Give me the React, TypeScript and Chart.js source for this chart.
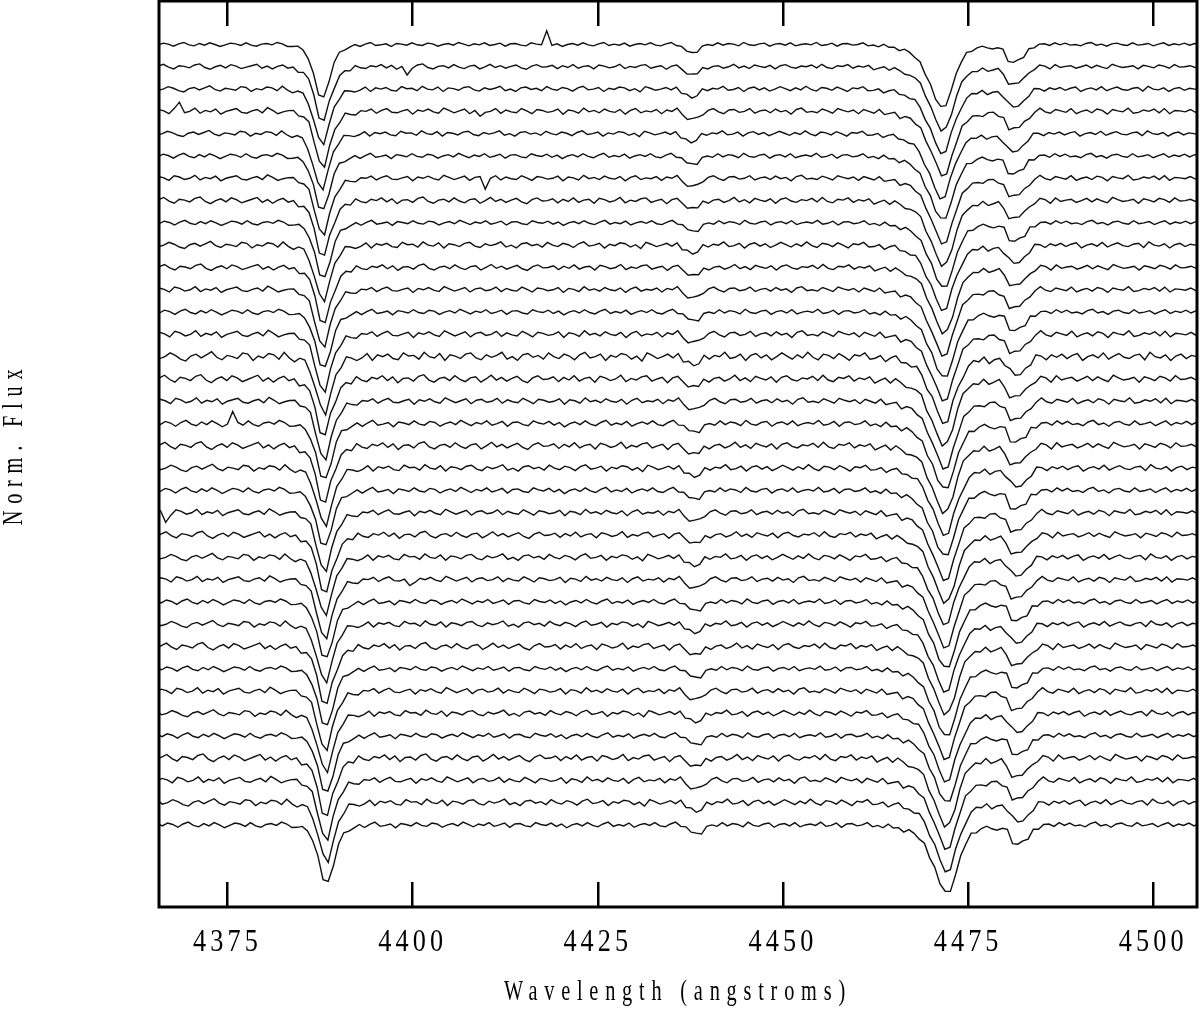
import React, { useEffect, useRef } from 'react';
import { Chart, registerables } from 'chart.js';

Chart.register(...registerables);

// ---- axes / text ----
const X_MIN = 4365.75;
const X_MAX = 4505.9;
const Y_MIN = 0.632;
const Y_MAX = 4.695;
const X_TICKS = [4375, 4400, 4425, 4450, 4475, 4500];
const X_TITLE = 'Wavelength (angstroms)';
const Y_TITLE = 'Norm. Flux';

// ---- spectrum sampling (Å) ----
const WAVE_START = 4364.9;
const WAVE_STEP = 0.7;

// ---- absorption lines (depth in 0.001 continuum units) ----
const LINE_WAVES = [
  4383.1, 4383.8, 4384.5, 4385.2, 4385.9, 4386.6, 4387.3, 4388.0, 4388.7, 4389.4, 4390.1, 4390.8, 4391.5,
  4392.2, 4392.9,
  4436.3, 4437.0, 4437.7, 4438.4, 4439.1,
  4462.2, 4462.9, 4463.6, 4464.3, 4465.0, 4465.7, 4466.4, 4467.1, 4467.8, 4468.5, 4469.2, 4469.9, 4470.6,
  4471.3, 4472.0, 4472.7, 4473.4, 4474.1, 4474.8, 4475.5, 4476.2, 4476.9, 4477.6, 4478.3, 4479.0, 4479.7,
  4480.4, 4481.1, 4481.8, 4482.5, 4483.2, 4483.9,
];
const LINE_DEPTHS = [
  3, 6, 12, 25, 60, 135, 225, 238, 160, 85, 42, 22, 12,
  6, 3,
  10, 28, 42, 28, 10,
  4, 6, 8, 11, 15, 20, 27, 37, 55, 82, 125, 180, 245,
  285, 270, 205, 135, 75, 40, 25, 17, 15, 14, 16, 18, 30,
  70, 80, 72, 55, 25, 8,
];

// ---- noise patterns (0.001 units) ----
const NOISE_A = [
  3, -2, 4, 1, -5, 2, 6, -1, -4, 3,
  -2, 5, 0, -6, -1, 4, 2, -3, 5, -2,
  -5, 1, 3, -1, 6, 2, -4, -2, 3, 0,
  -3, 4, -1, 2, -5, 3, 5, -2, 0, 4,
  -4, 1, 6, -3, -1, 2, -6, 3, 1, -2,
  5, -1, -3, 4, 2, -5, 0, 3, -2, 6,
  1, -4, 2, -1, 5, -3, 0, 4, -5, 2,
  3, -2, -4, 5, 1, -1, 4, -3, 2, -6,
  0, 3, -2, 5, -1, -4, 2, 6, -3, 1,
  -2, 4, -5, 0, 3, -1, 5, -2, -4, 2,
  6, -3, 1, -1, 4, -5, 2, 0, -3, 5,
  -2, 3, 1, -4, 6, -1, -3, 2, 4, -5,
  1, 3, -2, 5, -4, 0, 2, -1, 6, -3,
  -1, 4, -5, 2, 3, -2, 0, 5, -4, 1,
  -3, 6, -1, 2, -5, 4, 1, -2, 3, -6,
  2, 0, 5, -3, -1, 4, -2, 3, -4, 1,
  5, -1, -3, 2, 6, -4, 0, 3, -2, 4,
  -5, 1, 2, -3, 5, -1, 4, -2, 0, -4,
  3, 6, -2, 1, -5, 2, 4, -1, -3, 5,
  -2, 0, 3, -4, 1, 5, -3, 2, -1, 4,
  -2, 3, 1, -4, 2, 0,
];
const NOISE_B = [
  -4, 2, 7, -1, -6, 3, 1, -3, 5, 8,
  -2, -7, 0, 4, -3, 6, 2, -5, -1, 3,
  7, -4, 2, -6, 1, 5, -2, 3, -8, 0,
  4, 6, -3, -1, 5, -6, 2, 3, -4, 7,
  -1, -5, 3, 0, 6, -3, 4, -7, 1, 2,
  -4, 5, 8, -2, -6, 1, 3, -3, 6, -1,
  -5, 2, 4, -6, 0, 7, -2, 3, -4, 1,
  5, -3, -7, 2, 6, -1, 0, 4, -5, 3,
  -2, 6, -4, 1, 3, -6, 5, 2, -3, 0,
  7, -5, 1, -2, 4, 6, -4, 0, 3, -7,
  2, 5, -1, -3, 6, -2, 4, -6, 1, 3,
  -4, 0, 7, -3, 2, -5, 5, 1, -2, 4,
  -6, 3, 6, -1, -4, 2, 0, 5, -3, 7,
  -2, -5, 3, 1, 6, -4, 2, -1, 4, -6,
  0, 5, -3, 7, 2, -4, -1, 3, 6, -5,
  1, 4, -2, 0, -6, 3, 5, -1, 2, -3,
  6, -4, 1, 7, -2, -5, 3, 0, 4, -1,
  -3, 5, 2, -6, 6, -2, 1, 3, -4, 0,
  5, -3, 4, -1, -5, 7, 2, -2, 0, 3,
  -6, 4, 1, -3, 5, 2, -4, 6, -1, 0,
  3, -2, 1, 4, -3, 0,
];
const NOISE_C = [
  5, -3, 0, 6, 2, -4, -7, 1, 4, -2,
  3, 8, -1, -5, 2, 0, -3, 6, 4, -6,
  1, -2, 5, 3, -4, 7, -1, -6, 2, 4,
  -3, 0, 6, -5, 1, 3, -2, 8, 2, -4,
  -1, 5, -6, 3, 0, 4, -3, -5, 6, 1,
  2, -4, 7, 0, -2, 5, -6, 3, 1, -3,
  4, 6, -2, -5, 3, -1, 2, 7, -4, 0,
  -6, 3, 5, -1, 2, -4, 6, 0, -3, 4,
  1, -5, 3, 7, -2, 0, 4, -6, 2, -1,
  5, 3, -4, 1, -7, 6, 2, -3, 0, 4,
  -2, 5, -5, 3, 1, -1, 6, -4, 2, 0,
  7, -3, -1, 4, -6, 2, 5, -2, 3, -5,
  0, 6, 1, -4, 3, -2, 7, -1, -5, 4,
  2, -3, 5, 0, -6, 3, 1, 6, -4, -1,
  4, -5, 2, 7, -2, 0, -3, 5, 1, -6,
  3, 4, -1, -4, 6, 2, -5, 0, 3, -2,
  5, -6, 1, 4, -3, 7, 0, -2, 2, -4,
  6, 1, -5, 3, -1, 4, -3, 2, 5, -6,
  0, 3, -2, 6, -4, 1, 5, -1, -3, 2,
  4, -5, 7, 0, -2, 3, -6, 1, 4, -3,
  2, 0, -3, 5, 1, -2,
];
const NOISE_D = [
  -2, 4, 1, -5, 6, 3, -3, 0, 7, -4,
  2, -1, 5, -6, 0, 3, 6, -2, -4, 1,
  4, -3, 8, 2, -5, -1, 3, 5, -4, 0,
  6, -2, 1, -6, 4, 2, -3, 7, -1, -5,
  3, 0, 5, -4, 2, 6, -2, -3, 1, 4,
  -6, 3, 0, 5, -1, -4, 7, 2, -3, 1,
  5, -5, 2, 4, -2, 0, 6, -4, 3, -1,
  -3, 6, 1, -5, 4, 2, -2, 0, 5, -6,
  3, 1, -4, 7, -1, 2, -3, 5, 0, -2,
  4, -6, 2, 6, -3, 1, -1, 4, -5, 3,
  0, 7, -2, -4, 5, 1, -3, 2, 6, -1,
  -5, 3, 4, -2, 0, 6, -4, 1, 3, -3,
  5, -1, 2, -6, 4, 7, -2, 0, -3, 5,
  1, -4, 6, 2, -1, 3, -5, 4, 0, -2,
  7, -3, 1, 5, -6, 2, 3, -1, 4, -4,
  0, 6, -2, -5, 3, 1, 5, -3, 2, -1,
  -4, 4, 6, -2, 1, -6, 3, 0, 5, -3,
  2, 7, -1, -4, 4, 1, -2, 6, -5, 0,
  3, -3, 5, 2, -6, 4, 1, -1, 7, -4,
  -2, 3, 0, 5, -3, 6, -5, 2, 1, -1,
  4, -2, 0, 3, -1, 2,
];
const TEMPLATES = [NOISE_A, NOISE_B, NOISE_C, NOISE_D];

// ---- per-spectrum values (top to bottom) ----
const OFFSETS = [
  3.5, 3.4, 3.3, 3.2, 3.1, 3.0, 2.9, 2.8, 2.7, 2.6, 2.5, 2.4, 2.3, 2.2, 2.1, 2.0, 1.9, 1.8,
  1.7, 1.6, 1.5, 1.4, 1.3, 1.2, 1.1, 1.0, 0.9, 0.8, 0.7, 0.6, 0.5, 0.4, 0.3, 0.2, 0.1, 0.0,
];
const SHIFTS = [
  0, 0.05, 0, 0.1, -0.1, 0, 0.1, 0.1, 0.15, 0.1, 0.2, 0.15, 0.2, 0.2, 0.25, 0.2, 0.3, 0.3,
  0.25, 0.35, 0.3, 0.35, 0.4, 0.35, 0.4, 0.45, 0.4, 0.45, 0.5, 0.45, 0.5, 0.55, 0.5, 0.55, 0.6, 0.6,
];
const DEPTH_SCALE = [
  1.0, 1.0, 1.01, 1.0, 1.02, 1.01, 1.02, 1.02, 1.03, 1.02, 1.03, 1.03, 1.04, 1.03, 1.04, 1.04, 1.05, 1.04,
  1.05, 1.05, 1.04, 1.05, 1.06, 1.05, 1.06, 1.05, 1.06, 1.06, 1.07, 1.06, 1.07, 1.06, 1.07, 1.07, 1.08, 1.08,
];
const NOISE_SCALE = [
  1.5, 1.6, 1.8, 2.1, 1.8, 2.0, 1.9, 2.0, 1.9, 2.1, 1.9, 2.0, 2.1, 2.3, 2.8, 2.4, 2.2, 2.4,
  2.3, 2.2, 2.3, 2.2, 2.1, 2.2, 2.1, 2.2, 2.1, 2.2, 2.1, 2.2, 2.1, 2.2, 2.3, 2.2, 2.2, 2.1,
];
const TRACE_TEMPLATE = [
  0, 1, 2, 3, 2, 0, 3, 1, 0, 2, 1, 3, 0, 3, 2, 1, 3, 0,
  1, 2, 0, 3, 1, 2, 3, 0, 2, 1, 0, 3, 2, 0, 1, 3, 2, 0,
];

// ---- cosmic spikes / single-pixel features ----
const SPIKE_TRACE = [0, 1, 3, 3, 6, 17, 21, 24];
const SPIKE_WAVE = [4418.1, 4399.4, 4409.3, 4368.5, 4409.6, 4375.5, 4366.3, 4399.5];
const SPIKE_AMP = [55, -40, -30, 35, -45, 45, -45, -35];

// ---- text styling ----
const FONT_FAMILY = '"Liberation Serif", "Times New Roman", serif';
const TITLE_SX = 0.7;
const TITLE_SPACING = 9.7;
const LABEL_SX = 0.82;
const LABEL_SPACING = 5;
const Y_TITLE_SHIFT = -10;

function buildTrace(i: number) {
  const noise = TEMPLATES[TRACE_TEMPLATE[i]];
  const absorb = new Map<number, number>();
  LINE_WAVES.forEach((w, j) => absorb.set(Math.round((w - WAVE_START) / WAVE_STEP), LINE_DEPTHS[j]));
  const extra = new Map<number, number>();
  SPIKE_TRACE.forEach((t, j) => {
    if (t === i) extra.set(Math.round((SPIKE_WAVE[j] - SHIFTS[i] - WAVE_START) / WAVE_STEP), SPIKE_AMP[j]);
  });
  return noise.map((n, k) => ({
    x: WAVE_START + k * WAVE_STEP + SHIFTS[i],
    y:
      1 +
      OFFSETS[i] +
      (n * NOISE_SCALE[i] - (absorb.get(k) ?? 0) * DEPTH_SCALE[i] + (extra.get(k) ?? 0)) / 1000,
  }));
}

const framePlugin: any = {
  id: 'frameAndText',
  beforeDraw(chart: any) {
    const ctx = chart.ctx;
    ctx.save();
    ctx.fillStyle = '#ffffff';
    ctx.fillRect(0, 0, chart.width, chart.height);
    ctx.restore();
    const xs = chart.scales.x;
    const ys = chart.scales.y;
    if (!xs.__patched) {
      const origTitle = xs.drawTitle;
      xs.drawTitle = function () {
        const ca = chart.chartArea;
        const cx = (ca.left + ca.right) / 2;
        ctx.save();
        ctx.translate(cx, 0);
        ctx.scale(TITLE_SX, 1);
        ctx.translate(-cx, 0);
        ctx.letterSpacing = TITLE_SPACING + 'px';
        origTitle.call(this);
        ctx.restore();
      };
      xs._computeLabelArea = () => undefined;
      const origItems = xs.getLabelItems;
      xs.getLabelItems = function (ca: any) {
        const items = origItems.call(this, ca);
        return items.map((it: any) => ({
          ...it,
          options: {
            ...it.options,
            translation: [it.options.translation[0] / LABEL_SX, it.options.translation[1]],
          },
        }));
      };
      const origLabels = xs.drawLabels;
      xs.drawLabels = function (ca: any) {
        ctx.save();
        ctx.scale(LABEL_SX, 1);
        ctx.letterSpacing = LABEL_SPACING + 'px';
        origLabels.call(this, ca);
        ctx.restore();
      };
      xs.__patched = true;
    }
    if (!ys.__patched) {
      const origTitle = ys.drawTitle;
      ys.drawTitle = function () {
        const ca = chart.chartArea;
        const cy = (ca.top + ca.bottom) / 2;
        ctx.save();
        ctx.translate(0, cy + Y_TITLE_SHIFT);
        ctx.scale(1, TITLE_SX);
        ctx.translate(0, -cy);
        ctx.letterSpacing = TITLE_SPACING + 'px';
        origTitle.call(this);
        ctx.restore();
      };
      ys.__patched = true;
    }
  },
  afterDraw(chart: any) {
    const ctx = chart.ctx;
    const ca = chart.chartArea;
    ctx.save();
    ctx.strokeStyle = '#000';
    ctx.lineWidth = 3;
    ctx.strokeRect(ca.left, ca.top, ca.right - ca.left, ca.bottom - ca.top);
    ctx.restore();
  },
};

export default function App() {
  const ref = useRef<HTMLCanvasElement>(null);
  useEffect(() => {
    if (!ref.current) return;
    const datasets = OFFSETS.map((_, i) => ({
      data: buildTrace(i),
      borderColor: '#111111',
      borderWidth: 1.4,
      pointRadius: 0,
      fill: false,
      tension: 0,
      xAxisID: 'x',
      yAxisID: 'y',
    }));
    const fixTicks = (s: any) => {
      s.ticks = X_TICKS.map((v) => ({ value: v }));
    };
    const chart = new Chart(ref.current, {
      type: 'line',
      data: { datasets } as any,
      plugins: [framePlugin],
      options: {
        animation: false,
        responsive: false,
        devicePixelRatio: 1,
        events: [],
        layout: { padding: { left: 0, right: 3, top: 0, bottom: 0 } },
        plugins: { legend: { display: false }, tooltip: { enabled: false } },
        scales: {
          x: {
            type: 'linear',
            position: 'bottom',
            min: X_MIN,
            max: X_MAX,
            afterBuildTicks: fixTicks,
            afterFit: (s: any) => {
              s.height = 102;
              s.paddingLeft = 0;
              s.paddingRight = 0;
            },
            grid: {
              display: true,
              drawOnChartArea: false,
              drawTicks: true,
              tickLength: -25,
              tickWidth: 2.5,
              tickColor: '#000',
              lineWidth: 2.5,
              color: '#000',
            },
            border: { display: false },
            ticks: {
              display: true,
              autoSkip: false,
              maxRotation: 0,
              padding: 41,
              color: '#000',
              font: { family: FONT_FAMILY, size: 32 },
              callback: (v: any) => String(v),
            },
            title: {
              display: true,
              text: X_TITLE,
              color: '#000',
              font: { family: FONT_FAMILY, size: 29, lineHeight: 1 },
              padding: { top: 0, bottom: 2.5 },
            },
          },
          xTop: {
            type: 'linear',
            position: 'top',
            min: X_MIN,
            max: X_MAX,
            afterBuildTicks: fixTicks,
            afterFit: (s: any) => {
              s.height = 1;
              s.paddingLeft = 0;
              s.paddingRight = 0;
            },
            grid: {
              display: true,
              drawOnChartArea: false,
              drawTicks: true,
              tickLength: -25,
              tickWidth: 2.5,
              tickColor: '#000',
              lineWidth: 2.5,
              color: '#000',
            },
            border: { display: false },
            ticks: { display: false },
          },
          y: {
            type: 'linear',
            position: 'left',
            min: Y_MIN,
            max: Y_MAX,
            afterFit: (s: any) => {
              s.width = 159;
              s.paddingTop = 0;
              s.paddingBottom = 0;
            },
            grid: { display: false },
            border: { display: false },
            ticks: { display: false },
            title: {
              display: true,
              text: Y_TITLE,
              color: '#000',
              font: { family: FONT_FAMILY, size: 29, lineHeight: 1 },
              padding: { top: 0, bottom: 0 },
            },
          },
        } as any,
      },
    });
    return () => chart.destroy();
  }, []);
  return (
    <div style={{ position: 'fixed', left: 0, top: 0, width: 1200, height: 1009, background: '#fff' }}>
      <canvas ref={ref} width={1200} height={1009} style={{ display: 'block', width: 1200, height: 1009 }} />
    </div>
  );
}
